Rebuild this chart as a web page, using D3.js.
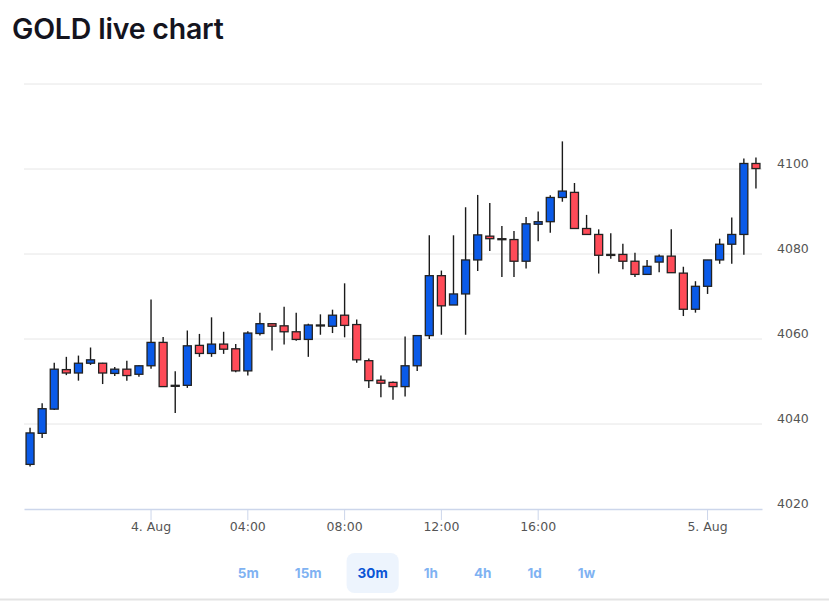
<!DOCTYPE html>
<html>
<head>
<meta charset="utf-8">
<script src="https://cdn.jsdelivr.net/npm/d3@7"></script>
<style>
  body { margin: 0; background: #fff; }
  svg { display: block; }
</style>
</head>
<body>
<div id="chart"></div>
<script>
// 30 minute candles, ordinal axis (daily break 22:00-23:00 skipped)
const times = [
  '2025-08-03 19:00', '2025-08-03 19:30', '2025-08-03 20:00', '2025-08-03 20:30', '2025-08-03 21:00',
  '2025-08-03 21:30', '2025-08-03 22:00', '2025-08-03 22:30', '2025-08-03 23:00', '2025-08-03 23:30',
  '2025-08-04 00:00', '2025-08-04 00:30', '2025-08-04 01:00', '2025-08-04 01:30', '2025-08-04 02:00',
  '2025-08-04 02:30', '2025-08-04 03:00', '2025-08-04 03:30', '2025-08-04 04:00', '2025-08-04 04:30',
  '2025-08-04 05:00', '2025-08-04 05:30', '2025-08-04 06:00', '2025-08-04 06:30', '2025-08-04 07:00',
  '2025-08-04 07:30', '2025-08-04 08:00', '2025-08-04 08:30', '2025-08-04 09:00', '2025-08-04 09:30',
  '2025-08-04 10:00', '2025-08-04 10:30', '2025-08-04 11:00', '2025-08-04 11:30', '2025-08-04 12:00',
  '2025-08-04 12:30', '2025-08-04 13:00', '2025-08-04 13:30', '2025-08-04 14:00', '2025-08-04 14:30',
  '2025-08-04 15:00', '2025-08-04 15:30', '2025-08-04 16:00', '2025-08-04 16:30', '2025-08-04 17:00',
  '2025-08-04 17:30', '2025-08-04 18:00', '2025-08-04 18:30', '2025-08-04 19:00', '2025-08-04 19:30',
  '2025-08-04 20:00', '2025-08-04 20:30', '2025-08-04 21:00', '2025-08-04 21:30', '2025-08-04 23:00',
  '2025-08-04 23:30', '2025-08-05 00:00', '2025-08-05 00:30', '2025-08-05 01:00', '2025-08-05 01:30',
  '2025-08-05 02:00'
];

const opens = [
  4030.5, 4037.8, 4043.5, 4052.8, 4052.0, 4054.3, 4054.3, 4051.9, 4052.9, 4051.7,
  4053.7, 4059.2, 4049.1, 4049.1, 4058.5, 4056.6, 4058.8, 4057.7, 4052.5, 4061.3,
  4063.6, 4063.1, 4061.7, 4059.9, 4063.2, 4063.0, 4065.6, 4063.4, 4054.9, 4050.3,
  4049.8, 4048.8, 4053.7, 4060.8, 4074.9, 4068.0, 4070.6, 4078.6, 4084.2, 4083.6,
  4083.4, 4078.3, 4087.0, 4087.6, 4093.3, 4094.5, 4086.0, 4084.6, 4079.8, 4079.9,
  4078.3, 4075.2, 4078.1, 4079.5, 4075.5, 4067.0, 4072.4, 4078.6, 4082.3, 4084.6,
  4101.3
];
const highs = [
  4039.1, 4044.9, 4054.4, 4055.8, 4056.1, 4058.0, 4054.4, 4053.4, 4054.9, 4053.8,
  4069.3, 4060.5, 4052.4, 4062.0, 4061.2, 4065.1, 4061.7, 4058.8, 4061.8, 4066.2,
  4063.7, 4067.6, 4066.2, 4063.6, 4065.8, 4066.9, 4073.1, 4064.6, 4055.4, 4051.4,
  4050.0, 4060.6, 4060.8, 4084.4, 4076.1, 4084.4, 4091.0, 4093.9, 4092.0, 4086.6,
  4085.4, 4088.7, 4090.0, 4093.8, 4106.5, 4096.7, 4089.2, 4085.8, 4084.9, 4082.4,
  4080.3, 4078.6, 4079.9, 4085.8, 4077.0, 4073.6, 4078.6, 4083.6, 4088.6, 4102.5,
  4102.7
];
const lows = [
  4030.0, 4036.7, 4043.3, 4051.5, 4050.2, 4053.9, 4049.4, 4051.3, 4050.2, 4051.1,
  4053.0, 4048.8, 4042.6, 4048.5, 4055.8, 4055.8, 4056.5, 4052.2, 4051.4, 4060.8,
  4057.3, 4058.7, 4059.6, 4055.8, 4061.0, 4061.4, 4060.4, 4054.4, 4048.5, 4046.3,
  4045.7, 4046.5, 4052.5, 4060.0, 4061.0, 4068.0, 4061.0, 4076.0, 4080.7, 4074.6,
  4074.6, 4076.6, 4083.0, 4085.0, 4092.3, 4086.0, 4084.6, 4075.4, 4078.9, 4076.4,
  4074.6, 4075.2, 4075.7, 4075.6, 4065.4, 4066.2, 4070.6, 4077.7, 4077.7, 4079.8,
  4095.4
];
const closes = [
  4037.9, 4043.6, 4052.9, 4052.0, 4054.3, 4055.1, 4052.0, 4052.9, 4051.4, 4053.7,
  4059.2, 4048.8, 4049.0, 4058.4, 4056.6, 4058.8, 4057.6, 4052.5, 4061.4, 4063.6,
  4063.0, 4061.7, 4059.9, 4063.3, 4063.3, 4065.6, 4063.2, 4055.1, 4050.2, 4049.6,
  4048.8, 4053.7, 4060.8, 4074.9, 4067.8, 4070.6, 4078.6, 4084.5, 4083.6, 4083.5,
  4078.3, 4087.1, 4087.6, 4093.3, 4094.8, 4086.0, 4084.6, 4079.7, 4079.9, 4078.3,
  4075.2, 4077.1, 4079.5, 4075.6, 4067.0, 4072.4, 4078.6, 4082.3, 4084.6, 4101.3,
  4100.1
];

const xTickTimes = ['2025-08-04 00:00', '2025-08-04 04:00', '2025-08-04 08:00', '2025-08-04 12:00', '2025-08-04 16:00', '2025-08-05 00:00'];
const xTickLabels = ['4. Aug', '04:00', '08:00', '12:00', '16:00', '5. Aug'];
const yTicks = [4020, 4040, 4060, 4080, 4100];
const yGrid = [4040, 4060, 4080, 4100, 4120];
const ranges = ['5m', '15m', '30m', '1h', '4h', '1d', '1w'];
const selectedRange = '30m';

const width = 829, height = 601;
const plotLeft = 24, plotRight = 762, plotTop = 84, plotBottom = 509;
const upColor = '#0a5ae8', downColor = '#ff4b58';

const svg = d3.select('#chart').append('svg').attr('width', width).attr('height', height);

// title
svg.append('text')
   .attr('x', 12).attr('y', 39)
   .attr('font-family', 'Inter, "Noto Sans", sans-serif')
   .attr('font-weight', 600)
   .attr('font-size', 28.5)
   .attr('letter-spacing', -0.2)
   .attr('fill', '#14141e')
   .text('GOLD live chart');

const x = d3.scaleBand().domain(times).range([plotLeft, plotRight]).paddingInner(0.34).paddingOuter(0.17);
const y = d3.scaleLinear().domain([4020, 4120]).range([plotBottom, plotTop]);

// grid
svg.append('g').selectAll('line')
   .data(yGrid).enter().append('line')
   .attr('x1', plotLeft).attr('x2', plotRight)
   .attr('y1', d => y(d)).attr('y2', d => y(d))
   .attr('stroke', '#e6e6e6').attr('stroke-width', 1);

// y axis labels (right side)
const yAxis = svg.append('g')
   .attr('transform', 'translate(' + plotRight + ',0)')
   .call(d3.axisRight(y).tickValues(yTicks).tickFormat(d3.format('d')).tickSize(0).tickPadding(15));
yAxis.select('.domain').remove();
yAxis.selectAll('text')
   .attr('dy', null).attr('y', -2)
   .attr('font-family', '"DejaVu Sans", sans-serif')
   .attr('font-size', 12.5)
   .attr('fill', '#555');

// x axis
const labelOf = d3.scaleOrdinal().domain(xTickTimes).range(xTickLabels);
const xAxis = svg.append('g')
   .attr('transform', 'translate(0,' + plotBottom + ')')
   .call(d3.axisBottom(x).tickValues(xTickTimes).tickFormat(d => labelOf(d)).tickSize(11).tickSizeOuter(0).tickPadding(2));
xAxis.select('.domain').attr('stroke', '#ccd6eb').attr('stroke-width', 1.5);
xAxis.selectAll('.tick line').attr('stroke', '#ccd6eb');
xAxis.selectAll('text')
   .attr('font-family', '"DejaVu Sans", sans-serif')
   .attr('font-size', 12.5)
   .attr('fill', '#555');

// candles
const candles = d3.range(times.length).map(i => ({
  t: times[i], o: opens[i], h: highs[i], l: lows[i], c: closes[i]
}));
const cx = d => x(d.t) + x.bandwidth() / 2;

const g = svg.append('g');
g.selectAll('line.wick')
 .data(candles).enter().append('line')
 .attr('class', 'wick')
 .attr('x1', cx).attr('x2', cx)
 .attr('y1', d => y(d.h)).attr('y2', d => y(d.l))
 .attr('stroke', '#1a1a1a').attr('stroke-width', 1.4);

g.selectAll('rect.body')
 .data(candles).enter().append('rect')
 .attr('class', 'body')
 .attr('x', d => x(d.t))
 .attr('width', x.bandwidth())
 .attr('y', d => y(Math.max(d.o, d.c)))
 .attr('height', d => Math.max(1, Math.abs(y(d.o) - y(d.c))))
 .attr('fill', d => d.c >= d.o ? upColor : downColor)
 .attr('stroke', '#222').attr('stroke-width', 1.3);

// range buttons: laid out by text width, group centred on the page
const btnPad = 11, btnGap = 14;
const btnG = svg.append('g');
const btns = btnG.selectAll('g')
  .data(ranges).enter().append('g');
const btnText = btns.append('text')
  .attr('text-anchor', 'middle').attr('dy', '0.35em')
  .attr('font-family', 'Inter, "Noto Sans", sans-serif')
  .attr('font-weight', 700)
  .attr('font-size', 13.5)
  .attr('fill', d => d === selectedRange ? '#0a55d6' : '#7fb2f2')
  .text(d => d);
const widths = btnText.nodes().map(n => n.getComputedTextLength() + 2 * btnPad);
const total = d3.sum(widths) + btnGap * (widths.length - 1);
let cursor = width / 2 - total / 2 + 2;
const centres = widths.map(w => { const c = cursor + w / 2; cursor += w + btnGap; return c; });
btns.attr('transform', (d, i) => 'translate(' + centres[i] + ',573)');
btns.filter(d => d === selectedRange).insert('rect', 'text')
  .attr('x', (d, i) => -widths[ranges.indexOf(d)] / 2).attr('y', -20)
  .attr('width', d => widths[ranges.indexOf(d)]).attr('height', 40).attr('rx', 8)
  .attr('fill', '#edf4fd');

svg.append('line')
   .attr('x1', 0).attr('x2', width).attr('y1', 599.5).attr('y2', 599.5)
   .attr('stroke', '#e3e3e3').attr('stroke-width', 2);
</script>
</body>
</html>
